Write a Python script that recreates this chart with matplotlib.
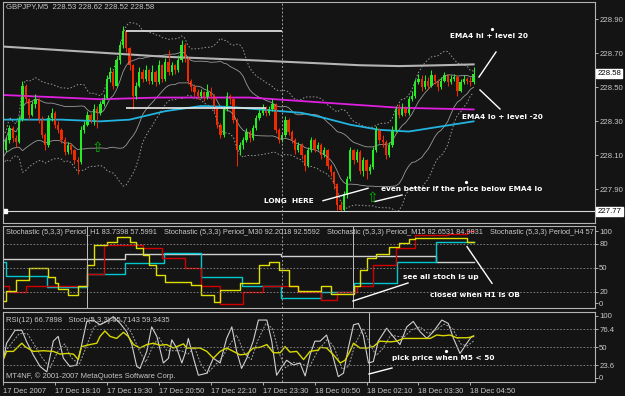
import numpy as np
import pandas as pd
import matplotlib
matplotlib.use('Agg')
import matplotlib.pyplot as plt
from matplotlib.lines import Line2D

plt.rcParams['font.family'] = ['Liberation Sans', 'DejaVu Sans']

# ---- data: GBPJPY M5, one bar every 5 minutes from 17 Dec 16:50 ----
closes = [228.13, 228.19, 228.26, 228.20, 228.18, 228.31, 228.51, 228.43, 228.34, 228.40,
          228.43, 228.31, 228.22, 228.16, 228.32, 228.35, 228.28, 228.25, 228.19, 228.12,
          228.16, 228.13, 228.07, 228.06, 228.25, 228.28, 228.34, 228.31, 228.37, 228.35,
          228.40, 228.44, 228.55, 228.59, 228.51, 228.66, 228.75, 228.83, 228.73, 228.63,
          228.45, 228.51, 228.59, 228.55, 228.60, 228.54, 228.59, 228.53, 228.63, 228.55,
          228.65, 228.59, 228.63, 228.60, 228.66, 228.75, 228.67, 228.54, 228.50, 228.47,
          228.45, 228.47, 228.44, 228.47, 228.45, 228.37, 228.28, 228.22, 228.37, 228.45,
          228.43, 228.31, 228.13, 228.16, 228.19, 228.24, 228.20, 228.26, 228.32, 228.35,
          228.38, 228.35, 228.37, 228.40, 228.25, 228.19, 228.22, 228.31, 228.24, 228.19,
          228.13, 228.16, 228.10, 228.04, 228.13, 228.19, 228.14, 228.16, 228.10, 228.13,
          228.04, 228.00, 227.93, 227.81, 227.78, 227.87, 227.96, 228.13, 228.07, 228.12,
          228.01, 228.07, 228.01, 228.03, 228.13, 228.25, 228.19, 228.18, 228.10, 228.16,
          228.25, 228.37, 228.34, 228.38, 228.35, 228.43, 228.45, 228.53, 228.55, 228.50,
          228.54, 228.51, 228.57, 228.54, 228.50, 228.54, 228.57, 228.53, 228.55, 228.56,
          228.48, 228.53, 228.55, 228.54, 228.53, 228.58]
highs = [228.22, 228.21, 228.28, 228.27, 228.22, 228.33, 228.54, 228.52, 228.44, 228.42,
         228.46, 228.44, 228.33, 228.23, 228.34, 228.38, 228.36, 228.30, 228.26, 228.21,
         228.18, 228.17, 228.14, 228.09, 228.27, 228.30, 228.36, 228.35, 228.40, 228.39,
         228.42, 228.46, 228.57, 228.62, 228.60, 228.68, 228.77, 228.86, 228.84, 228.74,
         228.64, 228.53, 228.62, 228.61, 228.63, 228.61, 228.63, 228.60, 228.66, 228.64,
         228.67, 228.72, 228.65, 228.64, 228.69, 228.78, 228.76, 228.68, 228.55, 228.52,
         228.49, 228.49, 228.48, 228.52, 228.50, 228.46, 228.38, 228.29, 228.39, 228.47,
         228.46, 228.44, 228.32, 228.18, 228.21, 228.26, 228.25, 228.28, 228.34, 228.37,
         228.40, 228.39, 228.39, 228.43, 228.41, 228.26, 228.24, 228.33, 228.32, 228.25,
         228.20, 228.18, 228.17, 228.11, 228.15, 228.21, 228.20, 228.18, 228.17, 228.15,
         228.14, 228.05, 228.01, 227.94, 227.83, 227.89, 227.98, 228.15, 228.14, 228.14,
         228.13, 228.09, 228.08, 228.05, 228.15, 228.27, 228.26, 228.22, 228.19, 228.18,
         228.27, 228.39, 228.40, 228.41, 228.39, 228.45, 228.48, 228.55, 228.58, 228.57,
         228.57, 228.56, 228.60, 228.58, 228.55, 228.56, 228.59, 228.58, 228.57, 228.58,
         228.57, 228.55, 228.57, 228.56, 228.56, 228.62]
lows = [228.05, 228.12, 228.17, 228.18, 228.15, 228.17, 228.30, 228.41, 228.31, 228.33,
        228.38, 228.29, 228.20, 228.13, 228.15, 228.30, 228.26, 228.23, 228.17, 228.10,
        228.11, 228.11, 228.05, 227.99, 228.05, 228.23, 228.27, 228.29, 228.28, 228.26,
        228.34, 228.39, 228.43, 228.53, 228.49, 228.50, 228.64, 228.73, 228.71, 228.60,
        228.37, 228.43, 228.50, 228.53, 228.54, 228.52, 228.52, 228.51, 228.52, 228.53,
        228.54, 228.57, 228.57, 228.58, 228.59, 228.65, 228.65, 228.52, 228.48, 228.45,
        228.43, 228.44, 228.42, 228.43, 228.43, 228.35, 228.26, 228.20, 228.21, 228.36,
        228.40, 228.29, 228.04, 228.10, 228.14, 228.18, 228.18, 228.19, 228.25, 228.31,
        228.34, 228.33, 228.34, 228.36, 228.23, 228.17, 228.18, 228.21, 228.22, 228.17,
        228.11, 228.12, 228.08, 228.01, 228.03, 228.12, 228.12, 228.13, 228.08, 228.09,
        228.02, 227.98, 227.90, 227.78, 227.77, 227.77, 227.85, 227.95, 228.05, 228.06,
        227.99, 227.98, 227.96, 227.99, 228.02, 228.12, 228.17, 228.15, 228.08, 228.09,
        228.15, 228.24, 228.32, 228.33, 228.33, 228.34, 228.42, 228.44, 228.52, 228.48,
        228.49, 228.49, 228.50, 228.52, 228.48, 228.49, 228.53, 228.51, 228.52, 228.54,
        228.45, 228.47, 228.52, 228.52, 228.51, 228.52]
first_open = 228.20

# moving averages (bar index, price)
magenta_t = [0, 30, 48, 76, 99, 122, 145]
magenta_v = [228.455, 228.43, 228.44, 228.44, 228.41, 228.38, 228.37]
cyan_t = [0, 18, 30, 39, 50, 61, 70, 79, 92, 99, 107, 116, 125, 135, 145]
cyan_v = [228.31, 228.31, 228.30, 228.31, 228.36, 228.39, 228.385, 228.37, 228.35,
          228.32, 228.28, 228.25, 228.24, 228.27, 228.30]
gray_t = [0, 50, 76, 99, 110, 122, 135, 145]
gray_v = [228.74, 228.68, 228.66, 228.64, 228.63, 228.625, 228.63, 228.635]
low_mark = 227.77
last_price = 228.58

# multi-timeframe stochastics (step start bar, value)
m15_t = [0, 1, 4, 8, 14, 16, 17, 20, 23, 26, 28, 32, 35, 39, 41, 43, 45, 47, 50, 58, 61,
         65, 67, 73, 79, 82, 85, 88, 91, 98, 101, 108, 110, 112, 115, 119, 122, 125, 127, 143]
m15_v = [9, 21, 35, 50, 39, 31, 24, 16, 27, 54, 79, 83, 89, 83, 75, 66, 54, 41, 33, 29, 16,
         7, 22, 31, 54, 58, 48, 27, 21, 27, 18, 27, 48, 62, 68, 76, 81, 86, 88, 83]
m30_t = [0, 2, 7, 26, 31, 43, 49, 56, 61, 67, 74, 80, 91, 98, 103, 109, 114, 121, 127, 137, 143]
m30_v = [27, 20, 27, 43, 79, 75, 62, 50, 27, 5, 20, 27, 20, 10, 20, 27, 54, 75, 91, 93, 96]
h1_t = [0, 1, 13.5, 26, 37.5, 49.5, 61, 73.5, 85.5, 98, 108, 121.5, 133.5]
h1_v = [57, 40, 26, 42, 56, 69, 39, 28, 12, 20, 31, 58, 83]
h4_t = [0, 37.5, 85.5, 133.5]
h4_v = [61, 67, 65, 58]

# RSI(12) and Stoch(5,3,3) of M5
rsi_t = [0, 1.1, 3.2, 5.8, 6.8, 9.3, 12.4, 15.5, 17.6, 19.6, 21.7, 23.2, 24.2, 26.8, 28.9,
         29.9, 31.4, 33, 35, 37.1, 38.6, 40.2, 42.2, 44.3, 46.3, 48.4, 50.4, 52.5, 55.6,
         56.6, 60.7, 62.8, 64.8, 66.9, 68.9, 71, 73, 75.1, 77.1, 79.2, 81.3, 83.3, 85.4,
         86.9, 88.4, 90.5, 92.6, 94.6, 97.2, 97.7, 99.7, 101.8, 103.9, 105.4, 106.9, 108,
         110, 112.1, 114.1, 116.1, 119.3, 121.3, 123.4, 127.5, 131.6, 133.6, 135.7, 137.7,
         139.8, 142.9, 144.4, 145]
rsi_v = [31, 44, 44, 56, 51, 44, 45, 44, 40, 41, 40, 32, 51, 54, 56, 66, 74, 66, 63, 72,
         66, 54, 49, 54, 56, 53, 54, 49, 55, 49, 49, 44, 34, 44, 49, 44, 39, 40, 49, 50,
         54, 42, 42, 51, 43, 44, 32, 44, 46, 50, 49, 39, 27, 31, 44, 56, 49, 49, 51, 59,
         58, 59, 63, 63, 63, 68, 67, 68, 64, 64, 65, 66.8]
stm_t = [0, 1.1, 3.7, 5.8, 7.3, 9.3, 11.4, 13.5, 15.5, 17, 18.6, 20.6, 22.7, 24.2, 25.8,
         27.8, 29.9, 31.9, 34, 36.1, 38.1, 39.7, 41.2, 42.2, 44.3, 45.8, 47.4, 49.4, 51,
         52, 53.5, 55.1, 56.1, 57.1, 58.7, 60.2, 62.8, 64.8, 66.9, 68.9, 70.5, 72, 73.5,
         75.1, 77.1, 78.7, 81.3, 82.8, 84.3, 85.9, 87.4, 89.5, 91.5, 93.1, 94.6, 96.1,
         97.7, 99.7, 101.8, 103.3, 104.9, 106.4, 108, 109.5, 111, 112.6, 114.1, 115.6,
         118.2, 120.2, 122.3, 124.4, 126.4, 128.5, 130.6, 132.6, 135.2, 137.2, 138.8,
         140.8, 142.9, 144.4, 145]
stm_v = [29, 56, 75, 75, 58, 39, 22, 14, 59, 66, 34, 22, 24, 53, 88, 90, 83, 88, 95, 85,
         73, 54, 22, 19, 44, 80, 66, 27, 34, 61, 49, 27, 41, 63, 34, 9, 12, 34, 27, 63,
         80, 44, 19, 34, 59, 90, 90, 59, 9, 21, 31, 24, 27, 8, 39, 59, 59, 68, 34, 7, 12,
         49, 83, 85, 68, 27, 29, 59, 78, 66, 54, 80, 88, 73, 63, 73, 90, 85, 63, 41, 56,
         66, 65.7]
sig_t = [0, 2.5, 5, 7.5, 9.5, 12, 14.5, 17, 19, 21, 23.5, 26, 28, 31, 34, 37, 39.5, 42,
         44, 46, 48, 50.5, 52.5, 55, 57, 59, 61, 63, 65, 67.5, 70, 72, 74.5, 76.5, 78.5,
         81, 83, 85, 87, 89.5, 92, 94.5, 97, 100, 102, 104.5, 106.5, 108.5, 111, 113, 115,
         117, 119.5, 121.5, 123.5, 126, 128.5, 131, 133.5, 136, 138.5, 141, 143, 145]
sig_v = [40, 55, 70, 70, 55, 35, 20, 45, 55, 35, 25, 55, 80, 86, 90, 88, 72, 45, 28, 50,
         65, 45, 45, 45, 40, 50, 25, 12, 22, 35, 55, 68, 40, 32, 60, 85, 78, 42, 20, 28,
         25, 22, 45, 62, 50, 18, 22, 55, 78, 55, 38, 48, 68, 66, 65, 76, 80, 70, 76, 84,
         78, 55, 52, 59.3]

time_ticks = [0, 16, 32, 48, 64, 80, 96, 112, 128, 144]
time_labels = ['17 Dec 2007', '17 Dec 18:10', '17 Dec 19:30', '17 Dec 20:50',
               '17 Dec 22:10', '17 Dec 23:30', '18 Dec 00:50', '18 Dec 02:10',
               '18 Dec 03:30', '18 Dec 04:50']
day_break = 86

# ---- styling ----
BG = '#141414'
FG = '#c8c8c8'
FRAME = '#b4b4b4'
W, H = 625.0, 396.0
XMAX = 182.4

fig = plt.figure(figsize=(6.25, 3.96), dpi=100, facecolor=BG)


def panel(top, bottom):
    ax = fig.add_axes([3 / W, 1 - bottom / H, 592 / W, (bottom - top) / H])
    ax.set_facecolor(BG)
    for s in ax.spines.values():
        s.set_color(FRAME)
        s.set_linewidth(0.8)
    ax.set_xlim(0, XMAX)
    ax.set_xticks([])
    ax.yaxis.tick_right()
    ax.tick_params(axis='y', colors=FG, labelsize=5.6, length=2, width=0.6, pad=1)
    return ax


ax_p = panel(2, 223)
ax_s = panel(226, 308)
ax_r = panel(312, 382)

# ---- price panel ----
c = np.array(closes)
o = np.r_[first_open, c[:-1]]
hi = np.array(highs)
lo = np.array(lows)
idx = np.arange(len(c))
col = np.where(c >= o, '#22ee22', '#f02a00')

cs = pd.Series(c)
mid = cs.rolling(20, min_periods=1).mean()
sd = cs.rolling(20, min_periods=2).std().bfill()
for k, ls, lw in [(1.0, '-', 0.6), (2.0, (0, (1.5, 2)), 0.7)]:
    ax_p.plot(idx, mid + k * sd, color='#9a9a9a', lw=lw, ls=ls)
    ax_p.plot(idx, mid - k * sd, color='#9a9a9a', lw=lw, ls=ls)

ax_p.plot(gray_t, gray_v, color='#b4b4b4', lw=1.5)
ax_p.plot(magenta_t, magenta_v, color='#e020e0', lw=1.3)
ax_p.plot(cyan_t, cyan_v, color='#22b4e0', lw=1.3)

ax_p.vlines(idx, lo, hi, colors=col, lw=0.75)
ax_p.bar(idx, np.maximum(np.abs(c - o), 0.004), bottom=np.minimum(o, c), width=0.7,
         color=col, linewidth=0)

ax_p.hlines(228.83, 37.9, 86, color='#ececec', lw=1.2)
ax_p.hlines(228.38, 37.9, 81, color='#ececec', lw=1.2)
ax_p.axhline(low_mark, color='#d8d8d8', lw=0.8)
ax_p.plot([0.6], [low_mark], marker='s', ms=3, color='white')
ax_p.axvline(day_break, color='#a0a0a0', lw=0.7, ls=(0, (2, 2)))

ax_p.set_ylim(227.702, 229.002)
ax_p.set_yticks([227.90, 228.10, 228.30, 228.50, 228.70, 228.90])
ax_p.set_yticklabels(['%.2f' % v for v in ax_p.get_yticks()])
tr = ax_p.get_yaxis_transform()
for v in (last_price, low_mark):
    ax_p.text(1.004, v, '%.2f' % v, transform=tr, ha='left', va='center', fontsize=5.6,
              color='black', clip_on=False,
              bbox=dict(boxstyle='square,pad=0.15', fc='white', ec='white'))

# ---- stochastic panel ----
for t, v, cl in [(h4_t, h4_v, '#d0d0d0'), (h1_t, h1_v, '#00c8d0'),
                 (m30_t, m30_v, '#d00000'), (m15_t, m15_v, '#e0e000')]:
    ax_s.plot(np.r_[t, 145], np.r_[v, v[-1]], drawstyle='steps-post', color=cl, lw=1.0)
for lv in (80, 50, 20):
    ax_s.axhline(lv, color='#8c8c8c', lw=0.6, ls=(0, (2, 2)))
ax_s.axvline(25.9, color='#c0c0c0', lw=0.7)
ax_s.axvline(107.9, color='#c0c0c0', lw=0.7)
ax_s.axvline(day_break, color='#a0a0a0', lw=0.7, ls=(0, (2, 2)))
ax_s.set_ylim(0, 102.5)
ax_s.set_yticks([96, 80, 50, 20, 6])
ax_s.set_yticklabels(['100', '80', '50', '20', '0'])

stoch_heads = [(6, 'Stochastic (5,3,3) Period_H1 83.7398 57.5991'),
               (164, 'Stochastic (5,3,3) Period_M30 92.2018 92.5592'),
               (327, 'Stochastic (5,3,3) Period_M15 82.6531 84.9831'),
               (490, 'Stochastic (5,3,3) Period_H4 57')]
for x, s in stoch_heads:
    ax_s.text((x - 3) / 592, (308 - 232) / 82, s, transform=ax_s.transAxes, fontsize=5.3,
              color=FG, va='center', ha='left', clip_on=True)

# ---- RSI panel ----
ax_r.plot(sig_t, sig_v, color='#a0a0a0', lw=0.7, ls=(0, (2, 1.5)))
ax_r.plot(stm_t, stm_v, color='#d0d0d0', lw=0.8)
ax_r.plot(rsi_t, rsi_v, color='#d8d800', lw=1.0)
for lv in (76.4, 50, 23.6):
    ax_r.axhline(lv, color='#8c8c8c', lw=0.6, ls=(0, (2, 2)))
ax_r.axvline(112.8, color='#c0c0c0', lw=0.7)
ax_r.axvline(day_break, color='#a0a0a0', lw=0.7, ls=(0, (2, 2)))
ax_r.set_ylim(-0.9, 101.8)
ax_r.set_yticks([96, 76.4, 50, 23.6, 5])
ax_r.set_yticklabels(['100', '76.4', '50', '23.6', '0'])
ax_r.set_xticks(time_ticks)
ax_r.set_xticklabels(time_labels, ha='left')
ax_r.tick_params(axis='x', colors=FG, labelsize=5.5, length=2, width=0.6, pad=2)

# ---- texts and hand-drawn marks (figure pixel positions) ----
def ftext(x, y, s, **kw):
    fig.text(x / W, 1 - y / H, s, va='center', ha='left', **kw)


def fline(x1, y1, x2, y2):
    fig.add_artist(Line2D([x1 / W, x2 / W], [1 - y1 / H, 1 - y2 / H], color='white',
                          lw=1.0, transform=fig.transFigure))


ftext(6, 7, 'GBPJPY,M5  228.53 228.62 228.52 228.58', fontsize=5.6, color=FG)
ftext(6, 320, 'RSI(12) 66.7898   Stoch(5,3,3) 65.7143 59.3435', fontsize=5.5, color=FG)
ftext(6, 376, 'MT4NF, \u00a9 2001-2007 MetaQuotes Software Corp.', fontsize=5.5, color=FG)

bold = dict(fontsize=5.3, color='white', fontweight='bold', family='DejaVu Sans')
ftext(450, 36, 'EMA4 hi + level 20', **bold)
ftext(462, 117, 'EMA4 lo + level -20', **bold)
ftext(264, 201, 'LONG  HERE', **bold)
ftext(381, 189, 'even better if the price below EMA4 lo', **bold)
ftext(403, 277, 'see all stoch is up', **bold)
ftext(430, 295, 'closed when H1 is OB', **bold)
ftext(392, 358, 'pick price when M5 < 50', **bold)
for x, y in [(492, 29), (466, 182), (446, 351)]:
    fig.add_artist(Line2D([x / W], [1 - y / H], marker='o', ms=1.3, color='white',
                          transform=fig.transFigure))

fline(479, 77, 496, 52)
fline(480, 90, 500, 109)
fline(323, 200.7, 368, 188.3)
fline(375, 201.5, 402, 195)
fline(353, 301, 408, 283)
fline(467, 246.7, 492, 283.3)
fline(369, 374, 392, 368)

for x, y in [(92, 148), (367, 198)]:
    ftext(x, y, '\u21e7', fontsize=10, color='#00b400', family='DejaVu Sans')

fig.savefig('out.png', dpi=100, facecolor=BG)
